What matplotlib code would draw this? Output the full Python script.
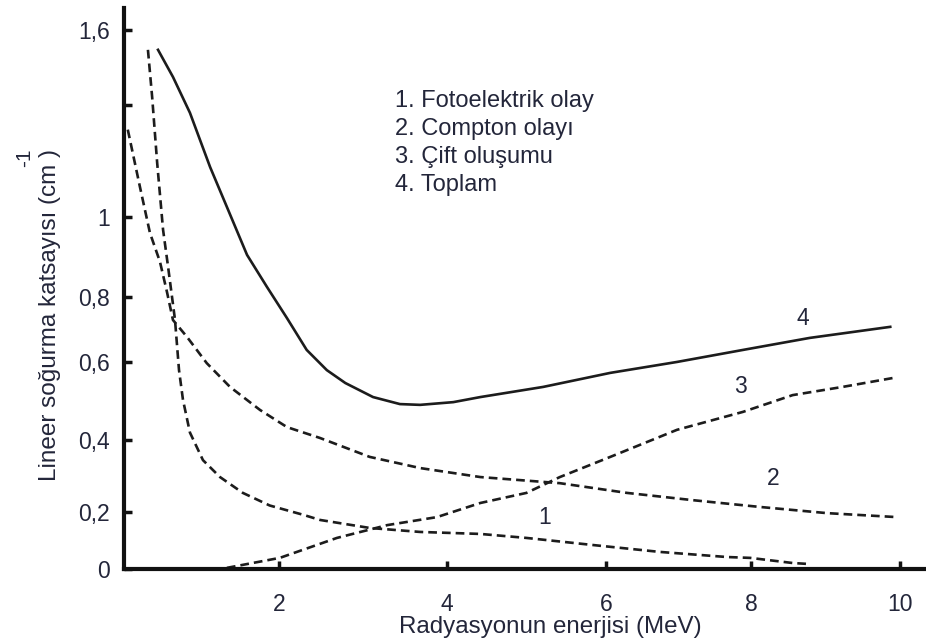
import numpy as np
import matplotlib
matplotlib.use("Agg")
import matplotlib.pyplot as plt

plt.rcParams['font.family'] = ['Liberation Sans', 'DejaVu Sans']

# curve data (x in MeV, y in cm^-1)
x_foto = [0.44, 0.49, 0.55, 0.62, 0.68, 0.762, 0.81, 0.857, 0.94, 1.095, 1.298, 1.57, 1.89, 2.29, 2.49, 3.08, 3.68, 4.42, 5.0, 5.84, 6.74, 7.67, 7.99, 8.56, 8.75]
y_foto = [1.536, 1.385, 1.173, 0.968, 0.875, 0.73, 0.579, 0.503, 0.419, 0.344, 0.297, 0.253, 0.218, 0.19, 0.172, 0.144, 0.13, 0.123, 0.109, 0.084, 0.06, 0.042, 0.039, 0.021, 0.018]

x_compton = [0.2, 0.345, 0.464, 0.583, 0.667, 0.738, 0.905, 1.14, 1.417, 1.774, 2.095, 2.49, 3.08, 3.68, 4.42, 5.42, 6.29, 7.19, 8.12, 9.02, 9.96]
y_compton = [1.28, 1.096, 0.96, 0.888, 0.812, 0.729, 0.677, 0.597, 0.536, 0.477, 0.433, 0.405, 0.353, 0.322, 0.297, 0.28, 0.253, 0.233, 0.214, 0.196, 0.182]

x_cift = [1.38, 2.01, 2.69, 3.29, 3.88, 4.42, 5.0, 5.42, 6.06, 6.98, 7.89, 8.56, 9.23, 9.91]
y_cift = [0.004, 0.039, 0.109, 0.154, 0.182, 0.225, 0.253, 0.297, 0.353, 0.426, 0.472, 0.515, 0.536, 0.559]

x_toplam = [0.56, 0.738, 0.94, 1.18, 1.38, 1.62, 1.857, 2.095, 2.33, 2.57, 2.79, 3.12, 3.44, 3.68, 4.08, 4.42, 5.21, 6.06, 6.98, 7.89, 8.79, 9.87]
y_toplam = [1.536, 1.449, 1.334, 1.16, 1.032, 0.905, 0.825, 0.735, 0.637, 0.579, 0.546, 0.51, 0.492, 0.49, 0.497, 0.51, 0.536, 0.572, 0.6, 0.637, 0.674, 0.708]

xticks = [2, 4, 6, 8, 10]
xtick_labels = ['2', '4', '6', '8', '10']
yticks = [0, 0.2, 0.4, 0.6, 0.8, 1.0, 1.36, 1.6]
ytick_labels = ['0', '0,2', '0,4', '0,6', '0,8', '1', '', '1,6']

legend_lines = ['1. Fotoelektrik olay', '2. Compton olayı', '3. Çift oluşumu', '4. Toplam']

# the scanned axes are not evenly spaced, so use piecewise scales
xk_val = [0, 2, 4, 6, 8, 10, 12]
xk_pos = [111, 279, 447, 606, 751, 900, 1049]
yk_val = [0, 0.2, 0.4, 0.6, 0.8, 1.0, 1.6, 2.0]
yk_pos = [0, 57, 129, 207, 272, 352, 539, 664]


def xf(v):
    return np.interp(v, xk_val, xk_pos)


def xi(p):
    return np.interp(p, xk_pos, xk_val)


def yf(v):
    return np.interp(v, yk_val, yk_pos)


def yi(p):
    return np.interp(p, yk_pos, yk_val)


ink = '#1c1c1c'
txt = '#23263a'

fig = plt.figure(figsize=(9.26, 6.44), dpi=100)
ax = fig.add_axes([124 / 926, 1 - 569 / 644, (926 - 124) / 926, (569 - 8) / 644])
ax.set_xscale('function', functions=(xf, xi))
ax.set_yscale('function', functions=(yf, yi))

ax.plot(x_foto, y_foto, color=ink, lw=1.9, dashes=(3.3, 1.9))
ax.plot(x_compton, y_compton, color=ink, lw=1.9, dashes=(3.3, 1.9))
ax.plot(x_cift, y_cift, color=ink, lw=1.9, dashes=(3.3, 1.9))
ax.plot(x_toplam, y_toplam, color=ink, lw=1.9)

ax.set_xlim(0.155, 10.35)
ax.set_ylim(0, 1.67)

ax.spines['top'].set_visible(False)
ax.spines['right'].set_visible(False)
ax.spines['left'].set_linewidth(3)
ax.spines['bottom'].set_linewidth(3)
ax.spines['left'].set_color('#111111')
ax.spines['bottom'].set_color('#111111')

ax.set_xticks(xticks)
ax.set_xticklabels(xtick_labels)
ax.set_yticks(yticks)
ax.set_yticklabels(ytick_labels)
ax.minorticks_off()
ax.tick_params(axis='both', direction='in', length=6, width=2.5, color='#111111',
               labelsize=16.5, labelcolor=txt)
ax.tick_params(axis='x', pad=17)
ax.tick_params(axis='y', pad=10)

# curve numbers
ax.text(5.23, 0.179, '1', fontsize=16.5, color=txt, ha='center', va='center')
ax.text(8.3, 0.294, '2', fontsize=16.5, color=txt, ha='center', va='center')
ax.text(7.85, 0.536, '3', fontsize=16.5, color=txt, ha='center', va='center')
ax.text(8.7, 0.735, '4', fontsize=16.5, color=txt, ha='center', va='center')

for i, line in enumerate(legend_lines):
    fig.text(395 / 926, 1 - (101 + 28 * i) / 644, line, fontsize=17, color=txt,
             ha='left', va='center')

fig.text(550 / 926, 1 - 627 / 644, 'Radyasyonun enerjisi (MeV)', fontsize=17.4,
         color=txt, ha='center', va='center')
fig.text(50 / 926, 1 - 315 / 644, 'Lineer soğurma katsayısı (cm )', fontsize=17.5,
         color=txt, ha='center', va='center', rotation=90)
fig.text(25 / 926, 1 - 158 / 644, '-1', fontsize=15, color=txt,
         ha='center', va='center', rotation=90)

fig.savefig('out.png', dpi=100)
